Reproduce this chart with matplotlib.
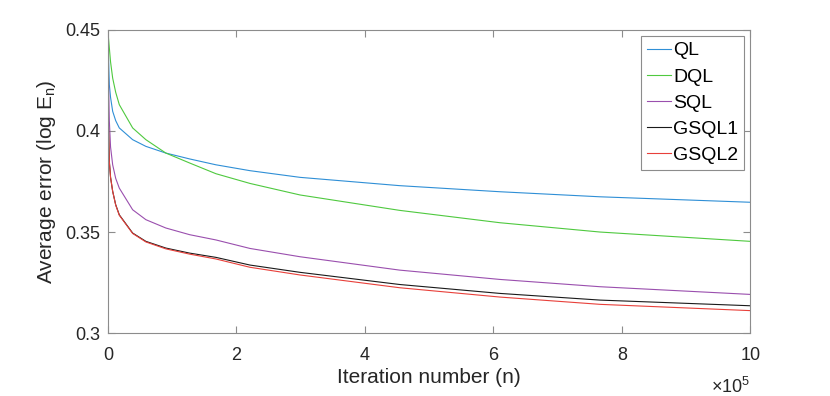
import matplotlib
matplotlib.use("Agg")
import matplotlib.pyplot as plt
from matplotlib.ticker import FuncFormatter
import numpy as np

plt.rcParams["font.family"] = ["Liberation Sans", "DejaVu Sans"]
plt.rcParams["mathtext.fontset"] = "custom"
plt.rcParams["mathtext.rm"] = "Liberation Sans"

# iteration number (raw counts)
n_iter = np.array([0, 0.005, 0.021, 0.04, 0.073, 0.12, 0.176, 0.384, 0.59,
                   0.90, 1.27, 1.68, 2.21, 2.99, 4.54, 6.10, 7.66, 10.0]) * 1e5

ql = [0.450, 0.440, 0.4227, 0.4165, 0.4096, 0.4050, 0.4014, 0.3956, 0.3923,
      0.3890, 0.3861, 0.3832, 0.3803, 0.3770, 0.3729, 0.3699, 0.3674, 0.3647]
dql = [0.450, 0.447, 0.4409, 0.4340, 0.4260, 0.4190, 0.4129, 0.4014, 0.3956,
       0.3890, 0.3841, 0.3788, 0.3740, 0.3683, 0.3607, 0.3546, 0.3500, 0.3454]
sql = [0.450, 0.430, 0.405, 0.392, 0.3832, 0.3765, 0.3717, 0.3610, 0.3561,
       0.3520, 0.3487, 0.3461, 0.3419, 0.3378, 0.3312, 0.3266, 0.3230, 0.3192]
gsql1 = [0.450, 0.405, 0.3849, 0.3770, 0.3701, 0.3635, 0.3585, 0.3495, 0.3454,
         0.3421, 0.3396, 0.3375, 0.3337, 0.3301, 0.3241, 0.3197, 0.3164, 0.3136]
gsql2 = [0.450, 0.405, 0.3849, 0.3770, 0.3701, 0.3633, 0.3583, 0.3493, 0.3451,
         0.3417, 0.3391, 0.3367, 0.3326, 0.3288, 0.3225, 0.3179, 0.3143, 0.3112]

labels = ["QL", "DQL", "SQL", "GSQL1", "GSQL2"]
colors = ["#2f8fd6", "#4fc93f", "#9a4fae", "#1a1a1a", "#e8403a"]
series = [ql, dql, sql, gsql1, gsql2]

fig = plt.figure(figsize=(8.3, 3.96), dpi=100)
ax = fig.add_axes([0.1301, 0.1583, 0.7741, 0.7672])

for y, c, lab in zip(series, colors, labels):
    ax.plot(n_iter, y, color=c, linewidth=0.8, label=lab)

ax.set_xlim(0, 1e6)
ax.set_ylim(0.3, 0.45)
ax.set_xticks(np.arange(0, 10.1, 2) * 1e5)
ax.set_yticks([0.3, 0.35, 0.4, 0.45])
ax.xaxis.set_major_formatter(FuncFormatter(lambda v, p: f"{v / 1e5:g}"))
ax.yaxis.set_major_formatter(FuncFormatter(lambda v, p: f"{v:g}"))

for s in ax.spines.values():
    s.set_color("#8c8c8c")
    s.set_linewidth(0.8)
ax.tick_params(direction="in", length=5, width=0.8, color="#8c8c8c",
               labelsize=13, labelcolor="#262626", top=True, right=True)
ax.tick_params(axis="x", pad=10)
ax.tick_params(axis="y", pad=5.5)

ax.set_xlabel("Iteration number (n)", fontsize=15, color="#262626", labelpad=3)
ax.set_ylabel("Average error (log E$_\\mathregular{n}$)", fontsize=15,
              color="#262626", labelpad=5)
ax.text(1.0, -0.145, "$\\times\\mathregular{10^5}$", transform=ax.transAxes,
        ha="right", va="top", fontsize=13, color="#262626")

leg = ax.legend(loc="upper right", bbox_to_anchor=(1 - 6.2 / 642.5, 1 - 6.5 / 303.8),
                borderaxespad=0, fontsize=14, fancybox=False, framealpha=1,
                handlelength=1.25, handletextpad=0.1, labelspacing=0.44,
                borderpad=0.3)
leg.get_frame().set_edgecolor("#8c8c8c")
leg.get_frame().set_linewidth(0.8)

fig.savefig("out.png", dpi=100)
